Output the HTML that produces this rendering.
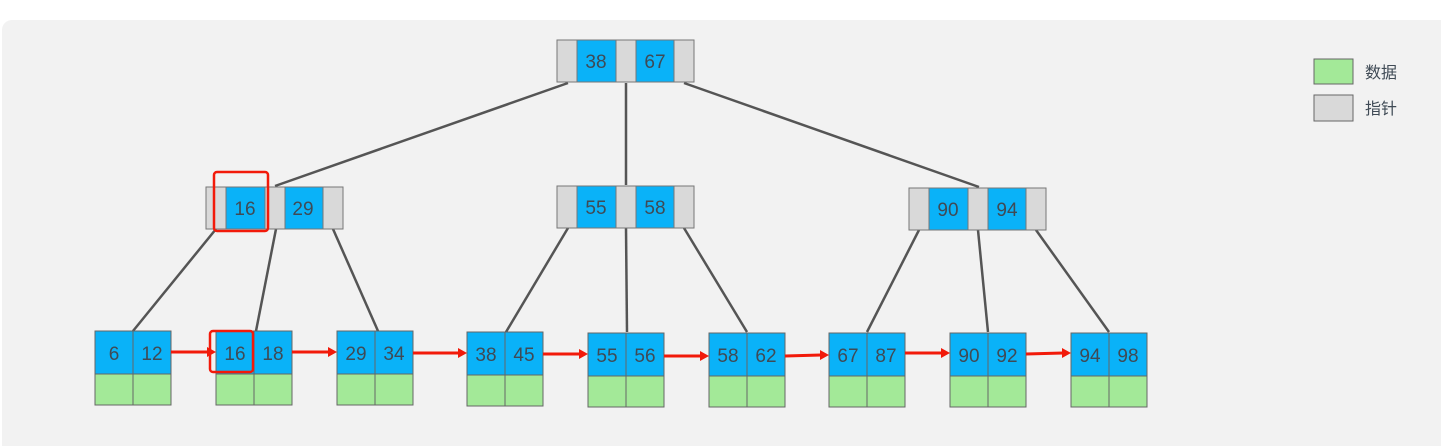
<!DOCTYPE html>
<html><head><meta charset="utf-8"><style>
html,body{margin:0;padding:0;background:#fff;}
svg{display:block;}
text{font-family:"Liberation Sans","Noto Sans CJK SC",sans-serif;fill:#3f4a55;}
</style></head><body>
<svg width="1441" height="446" viewBox="0 0 1441 446" xmlns="http://www.w3.org/2000/svg">
<rect x="2" y="20" width="1460" height="440" rx="10" fill="#f2f2f2"/>
<g stroke="#555" stroke-width="2.5" fill="none">
<line x1="568" y1="83" x2="275" y2="186"/>
<line x1="626" y1="83" x2="626" y2="185"/>
<line x1="684" y1="83" x2="979" y2="187"/>
<line x1="216" y1="229" x2="133" y2="331"/>
<line x1="276" y1="229" x2="256" y2="331"/>
<line x1="333" y1="229" x2="378" y2="331"/>
<line x1="568" y1="228" x2="506" y2="332"/>
<line x1="626" y1="228" x2="627" y2="332"/>
<line x1="684" y1="228" x2="747" y2="332"/>
<line x1="919" y1="230" x2="867" y2="332"/>
<line x1="978" y1="230" x2="988" y2="332"/>
<line x1="1036" y1="230" x2="1109" y2="332"/>
</g>
<defs>
<g id="inode" stroke="#777" stroke-width="1">
<rect x="0" y="0" width="20" height="42" fill="#d9d9d9"/>
<rect x="20" y="0" width="39" height="42" fill="#0ab2f8"/>
<rect x="59" y="0" width="20" height="42" fill="#d9d9d9"/>
<rect x="79" y="0" width="38" height="42" fill="#0ab2f8"/>
<rect x="117" y="0" width="20" height="42" fill="#d9d9d9"/>
</g>
<g id="leaf" stroke="#666" stroke-width="1">
<rect x="0" y="0" width="38" height="43" fill="#0ab2f8"/>
<rect x="38" y="0" width="38" height="43" fill="#0ab2f8"/>
<rect x="0" y="43" width="38" height="31" fill="#a3e998"/>
<rect x="38" y="43" width="38" height="31" fill="#a3e998"/>
</g>
</defs>
<g font-size="19" text-anchor="middle">
<use href="#inode" x="557" y="40"/><text x="596" y="68">38</text><text x="655" y="68">67</text>
<use href="#inode" x="206" y="187"/><text x="245" y="215">16</text><text x="303" y="215">29</text>
<use href="#inode" x="557" y="186"/><text x="596" y="214">55</text><text x="655" y="214">58</text>
<use href="#inode" x="909" y="188"/><text x="948" y="216">90</text><text x="1007" y="216">94</text>

<use href="#leaf" x="95" y="331"/><text x="114" y="360">6</text><text x="152" y="360">12</text>
<use href="#leaf" x="216" y="331"/><text x="235" y="360">16</text><text x="273" y="360">18</text>
<use href="#leaf" x="337" y="331"/><text x="356" y="360">29</text><text x="394" y="360">34</text>
<use href="#leaf" x="467" y="332"/><text x="486" y="361">38</text><text x="524" y="361">45</text>
<use href="#leaf" x="588" y="333"/><text x="607" y="362">55</text><text x="645" y="362">56</text>
<use href="#leaf" x="709" y="333"/><text x="728" y="362">58</text><text x="766" y="362">62</text>
<use href="#leaf" x="829" y="333"/><text x="848" y="362">67</text><text x="886" y="362">87</text>
<use href="#leaf" x="950" y="333"/><text x="969" y="362">90</text><text x="1007" y="362">92</text>
<use href="#leaf" x="1071" y="333"/><text x="1090" y="362">94</text><text x="1128" y="362">98</text>
</g>
<g stroke="#f21a0a" stroke-width="3" fill="#f21a0a">
<line x1="171" y1="352" x2="208" y2="352"/><polygon points="216,352 207,347 207,357" stroke="none"/>
<line x1="292" y1="352" x2="329" y2="352"/><polygon points="337,352 328,347 328,357" stroke="none"/>
<line x1="413" y1="353" x2="459" y2="353"/><polygon points="467,353 458,348 458,358" stroke="none"/>
<line x1="543" y1="354" x2="580" y2="354"/><polygon points="588,354 579,349 579,359" stroke="none"/>
<line x1="664" y1="356" x2="701" y2="356"/><polygon points="709,356 700,351 700,361" stroke="none"/>
<line x1="785" y1="356" x2="821" y2="355"/><polygon points="829,355 820,350 820,360" stroke="none"/>
<line x1="905" y1="353" x2="942" y2="353"/><polygon points="950,353 941,348 941,358" stroke="none"/>
<line x1="1026" y1="354" x2="1063" y2="353"/><polygon points="1071,353 1062,348 1062,358" stroke="none"/>
</g>
<g fill="none" stroke="#f21a0a" stroke-width="2.5">
<rect x="214" y="172" width="54" height="59" rx="3"/>
<rect x="210" y="331" width="43" height="41" rx="3"/>
</g>
<rect x="1314" y="59" width="39" height="25" fill="#a3e998" stroke="#666"/>
<rect x="1314" y="95" width="39" height="26" fill="#d9d9d9" stroke="#666"/>
<text x="1365" y="78" font-size="16">数据</text>
<text x="1365" y="114" font-size="16">指针</text>
</svg>
</body></html>
